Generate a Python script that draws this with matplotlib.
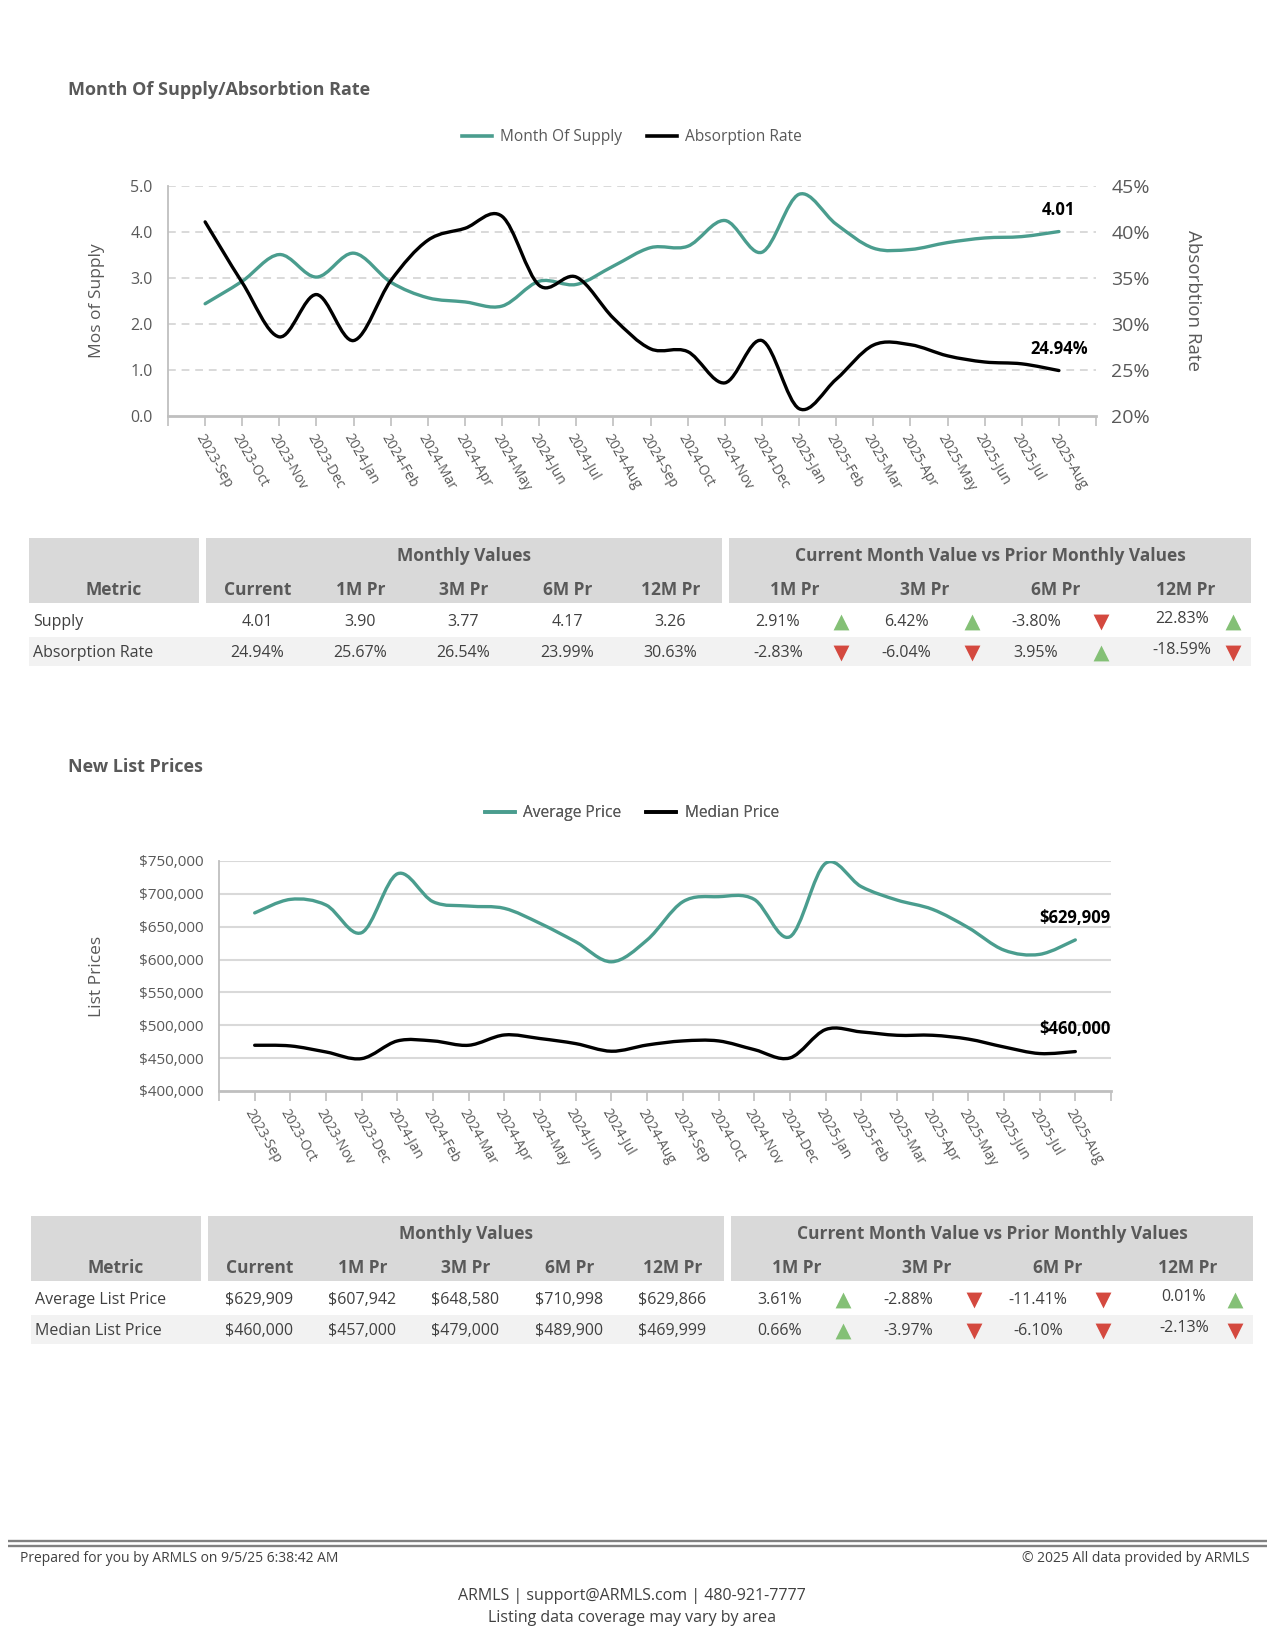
import matplotlib

matplotlib.use("Agg")
import matplotlib.pyplot as plt
from matplotlib.lines import Line2D
from matplotlib.patches import PathPatch, Rectangle
from matplotlib.path import Path
from matplotlib.ticker import FixedLocator


MONTHS = [
    "2023-Sep", "2023-Oct", "2023-Nov", "2023-Dec",
    "2024-Jan", "2024-Feb", "2024-Mar", "2024-Apr", "2024-May", "2024-Jun",
    "2024-Jul", "2024-Aug", "2024-Sep", "2024-Oct", "2024-Nov", "2024-Dec",
    "2025-Jan", "2025-Feb", "2025-Mar", "2025-Apr", "2025-May", "2025-Jun",
    "2025-Jul", "2025-Aug",
]

MONTHS_OF_SUPPLY = [
    2.44, 2.93, 3.51, 3.02, 3.54, 2.91, 2.57, 2.48, 2.39, 2.93, 2.86, 3.26,
    3.66, 3.69, 4.25, 3.56, 4.82, 4.17, 3.65, 3.62, 3.77, 3.87, 3.90, 4.01,
]
ABSORPTION_RATE = [
    41.1, 34.5, 28.6, 33.2, 28.2, 34.7, 39.1, 40.4, 41.7, 34.2, 35.1, 30.63,
    27.3, 27.0, 23.6, 28.2, 20.8, 23.99, 27.7, 27.75, 26.54, 25.87, 25.67, 24.94,
]

AVERAGE_PRICE = [
    671000, 691600, 683000, 641000, 730500, 688000, 681400, 677900, 655000,
    627000, 596600, 629866, 688000, 695700, 691600, 634700, 746500, 710998,
    690600, 676400, 648580, 614400, 607942, 629909,
]
MEDIAN_PRICE = [
    469600, 468600, 459400, 449300, 476200, 476200, 469600, 485300, 479800,
    472100, 460500, 469999, 476200, 476200, 463000, 450300, 493500, 489900,
    484800, 484800, 479000, 467000, 457000, 460000,
]

PRIOR_COLUMNS = ["Current", "1M Pr", "3M Pr", "6M Pr", "12M Pr"]
CHANGE_COLUMNS = ["1M Pr", "3M Pr", "6M Pr", "12M Pr"]

SUPPLY_ROWS = ["Supply", "Absorption Rate"]
SUPPLY_VALUES = [
    ["4.01", "3.90", "3.77", "4.17", "3.26"],
    ["24.94%", "25.67%", "26.54%", "23.99%", "30.63%"],
]
SUPPLY_CHANGES = [[2.91, 6.42, -3.80, 22.83], [-2.83, -6.04, 3.95, -18.59]]

PRICE_ROWS = ["Average List Price", "Median List Price"]
PRICE_VALUES = [
    ["$629,909", "$607,942", "$648,580", "$710,998", "$629,866"],
    ["$460,000", "$457,000", "$479,000", "$489,900", "$469,999"],
]
PRICE_CHANGES = [[3.61, -2.88, -11.41, 0.01], [0.66, -3.97, -6.10, -2.13]]

TEAL = "#4A9D8E"
BLACK = "#000000"
TEXT = "#595959"
DARK = "#404040"
AXIS_GRAY = "#BFBFBF"
GRID_GRAY = "#D9D9D9"
UP_GREEN = "#84C076"
DOWN_RED = "#D4493F"

W, H = 1275, 1650

plt.rcParams["font.family"] = ["Open Sans", "DejaVu Sans"]


def px_rect(x0, y0, x1, y1):
    return [x0 / W, 1 - y1 / H, (x1 - x0) / W, (y1 - y0) / H]


def smooth_path(xs, ys):
    # Excel-style smoothed line: cubic bezier through every data point
    pts = list(zip(xs, ys))
    n = len(pts)
    verts = [pts[0]]
    codes = [Path.MOVETO]
    for i in range(n - 1):
        p0 = pts[max(i - 1, 0)]
        p1 = pts[i]
        p2 = pts[i + 1]
        p3 = pts[min(i + 2, n - 1)]
        c1 = (p1[0] + (p2[0] - p0[0]) / 6, p1[1] + (p2[1] - p0[1]) / 6)
        c2 = (p2[0] - (p3[0] - p1[0]) / 6, p2[1] - (p3[1] - p1[1]) / 6)
        verts += [c1, c2, p2]
        codes += [Path.CURVE4] * 3
    return Path(verts, codes)


def add_smooth_line(ax, ys, color):
    xs = list(range(len(ys)))
    patch = PathPatch(smooth_path(xs, ys), fill=False, edgecolor=color,
                      linewidth=2.4, capstyle="round", joinstyle="round", zorder=3)
    ax.add_patch(patch)


def style_category_axis(ax):
    n = len(MONTHS)
    ax.set_xlim(-1, n)
    ax.xaxis.set_major_locator(FixedLocator(range(n)))
    ax.xaxis.set_minor_locator(FixedLocator([-1, n]))
    ax.set_xticklabels(MONTHS, rotation=-60, ha="left", va="top",
                       rotation_mode="anchor", fontsize=10, color=TEXT)
    ax.tick_params(axis="x", which="both", direction="out", length=7,
                   width=1.2, color=AXIS_GRAY, pad=4)
    for side in ("top", "right"):
        ax.spines[side].set_visible(False)
    ax.spines["left"].set_color(AXIS_GRAY)
    ax.spines["left"].set_linewidth(1.3)
    ax.spines["bottom"].set_color(AXIS_GRAY)
    ax.spines["bottom"].set_linewidth(2.0)
    ax.tick_params(axis="y", length=0, pad=11, labelcolor=TEXT)


def draw_legend(page, y, labels, colors, cx):
    handles = [Line2D([], [], color=c, linewidth=2.6) for c in colors]
    leg = page.legend(handles, labels, loc="center", bbox_to_anchor=(cx, y),
                      bbox_transform=page.transData, ncol=2, frameon=False,
                      fontsize=11.2, handlelength=1.9, columnspacing=1.6,
                      handletextpad=0.55)
    for t in leg.get_texts():
        t.set_color(TEXT)
    page.add_artist(leg)


def draw_table(page, top, dx, rows, values, changes):
    y_head1 = top + 18
    y_head2 = top + 52
    blocks = [(29, 199), (206, 722), (729, 1251)]
    for x0, x1 in blocks:
        page.add_patch(Rectangle((x0 + dx, top), x1 - x0, 65,
                                 facecolor=GRID_GRAY, edgecolor="none"))
    hdr = dict(fontsize=12.5, color=TEXT, fontweight="bold",
               ha="center", va="center")
    page.text(114 + dx, y_head2, "Metric", **hdr)
    page.text(464 + dx, y_head1, "Monthly Values", **hdr)
    page.text(990 + dx, y_head1, "Current Month Value vs Prior Monthly Values", **hdr)
    value_x = [257.5, 360.5, 463.5, 567.5, 670.5]
    change_hdr_x = [794.5, 925, 1056, 1185.5]
    change_x = [778, 906, 1036, 1182]
    arrow_x = [841, 972, 1101, 1233]
    for x, label in zip(value_x, PRIOR_COLUMNS):
        page.text(x + dx, y_head2, label, **hdr)
    for x, label in zip(change_hdr_x, CHANGE_COLUMNS):
        page.text(x + dx, y_head2, label, **hdr)

    row_y = [top + 84, top + 115]
    page.add_patch(Rectangle((29 + dx, top + 99), 1222, 29,
                             facecolor="#F2F2F2", edgecolor="none"))
    cell = dict(fontsize=11.5, color=DARK, va="center")
    for r, y in enumerate(row_y):
        page.text(33 + dx, y, rows[r], ha="left", **cell)
        for x, v in zip(value_x, values[r]):
            page.text(x + dx, y, v, ha="center", **cell)
        for c, (x, ax_, v) in enumerate(zip(change_x, arrow_x, changes[r])):
            yy = y - 3 if c == 3 else y
            page.text(x + dx, yy, f"{v:.2f}%", ha="center", **cell)
            up = v >= 0
            page.scatter([ax_ + dx], [y], marker="^" if up else "v", s=130,
                         color=UP_GREEN if up else DOWN_RED, linewidths=0,
                         zorder=4)


fig = plt.figure(figsize=(W / 100, H / 100), dpi=100)
page = fig.add_axes([0, 0, 1, 1])
page.set_xlim(0, W)
page.set_ylim(H, 0)
page.axis("off")

# ---- Month of supply / absorption rate ----
page.text(68, 90, "Month Of Supply/Absorbtion Rate", fontsize=13,
          fontweight="bold", color=TEXT, ha="left", va="center")
draw_legend(page, 137, ["Month Of Supply", "Absorption Rate"], [TEAL, BLACK], 632)

ax1 = fig.add_axes(px_rect(168, 186, 1096, 416))
ax1.set_facecolor("none")
style_category_axis(ax1)
ax1.set_ylim(0, 5)
ax1.set_yticks([0, 1, 2, 3, 4, 5])
ax1.set_yticklabels([f"{v:.1f}" for v in range(6)], fontsize=11.5)
for v in range(1, 6):
    ax1.axhline(v, color=GRID_GRAY, linewidth=1.4, linestyle=(0, (4, 3)), zorder=1)
ax1.set_ylabel("Mos of Supply", fontsize=12.5, color=TEXT, va="center")
ax1.yaxis.set_label_coords(-0.0765, 0.5)
add_smooth_line(ax1, MONTHS_OF_SUPPLY, TEAL)
ax1.annotate(f"{MONTHS_OF_SUPPLY[-1]:.2f}", xy=(len(MONTHS) - 1, MONTHS_OF_SUPPLY[-1]),
             xytext=(0, 15.5), textcoords="offset points", ha="center", va="center",
             fontsize=12, fontweight="bold", color="#000000")

ax1b = ax1.twinx()
ax1b.set_ylim(20, 45)
ax1b.set_yticks([20, 25, 30, 35, 40, 45])
ax1b.set_yticklabels([f"{v}%" for v in range(20, 50, 5)], fontsize=14, color=TEXT)
ax1b.tick_params(axis="y", length=0, pad=11)
for side in ("top", "right", "left", "bottom"):
    ax1b.spines[side].set_visible(False)
ax1b.set_ylabel("Absorbtion Rate", fontsize=13.5, color=TEXT, rotation=270, va="center")
ax1b.yaxis.set_label_coords(1.104, 0.5)
add_smooth_line(ax1b, ABSORPTION_RATE, BLACK)
ax1b.annotate(f"{ABSORPTION_RATE[-1]:.2f}%", xy=(len(MONTHS) - 1, ABSORPTION_RATE[-1]),
              xytext=(0, 15.5), textcoords="offset points", ha="center", va="center",
              fontsize=12, fontweight="bold", color="#000000")

draw_table(page, 538, 0, SUPPLY_ROWS, SUPPLY_VALUES, SUPPLY_CHANGES)

# ---- New list prices ----
page.text(68, 767, "New List Prices", fontsize=13, fontweight="bold",
          color=TEXT, ha="left", va="center")
draw_legend(page, 813, ["Average Price", "Median Price"], [TEAL, BLACK], 632)

ax2 = fig.add_axes(px_rect(219, 861, 1111, 1091))
ax2.set_facecolor("none")
style_category_axis(ax2)
ax2.set_ylim(400000, 750000)
ticks = list(range(400000, 750001, 50000))
ax2.set_yticks(ticks)
ax2.set_yticklabels([f"${t:,}" for t in ticks], fontsize=11)
for t in ticks[1:]:
    ax2.axhline(t, color=GRID_GRAY, linewidth=1.5, zorder=1)
ax2.set_ylabel("List Prices", fontsize=12.5, color=TEXT, va="center")
ax2.yaxis.set_label_coords(-0.137, 0.5)
add_smooth_line(ax2, AVERAGE_PRICE, TEAL)
add_smooth_line(ax2, MEDIAN_PRICE, BLACK)
for series in (AVERAGE_PRICE, MEDIAN_PRICE):
    ax2.annotate(f"${series[-1]:,}", xy=(len(MONTHS) - 1, series[-1]),
                 xytext=(0, 16), textcoords="offset points", ha="center",
                 va="center", fontsize=12, fontweight="bold", color="#000000")

draw_table(page, 1216, 2, PRICE_ROWS, PRICE_VALUES, PRICE_CHANGES)

# ---- footer ----
for y in (1541, 1545.5):
    page.plot([8, 1267], [y, y], color="#808080", linewidth=1.7, solid_capstyle="butt")
page.text(20, 1559, "Prepared for you by ARMLS on 9/5/25 6:38:42 AM", fontsize=10,
          color=DARK, ha="left", va="center")
page.text(1250, 1559, "\u00a9 2025 All data provided by ARMLS", fontsize=10,
          color=DARK, ha="right", va="center")
page.text(632, 1596, "ARMLS | support@ARMLS.com | 480-921-7777", fontsize=11.5,
          color=DARK, ha="center", va="center")
page.text(632, 1618, "Listing data coverage may vary by area", fontsize=11.5,
          color=DARK, ha="center", va="center")

fig.savefig("out.png", dpi=100, facecolor="white")
